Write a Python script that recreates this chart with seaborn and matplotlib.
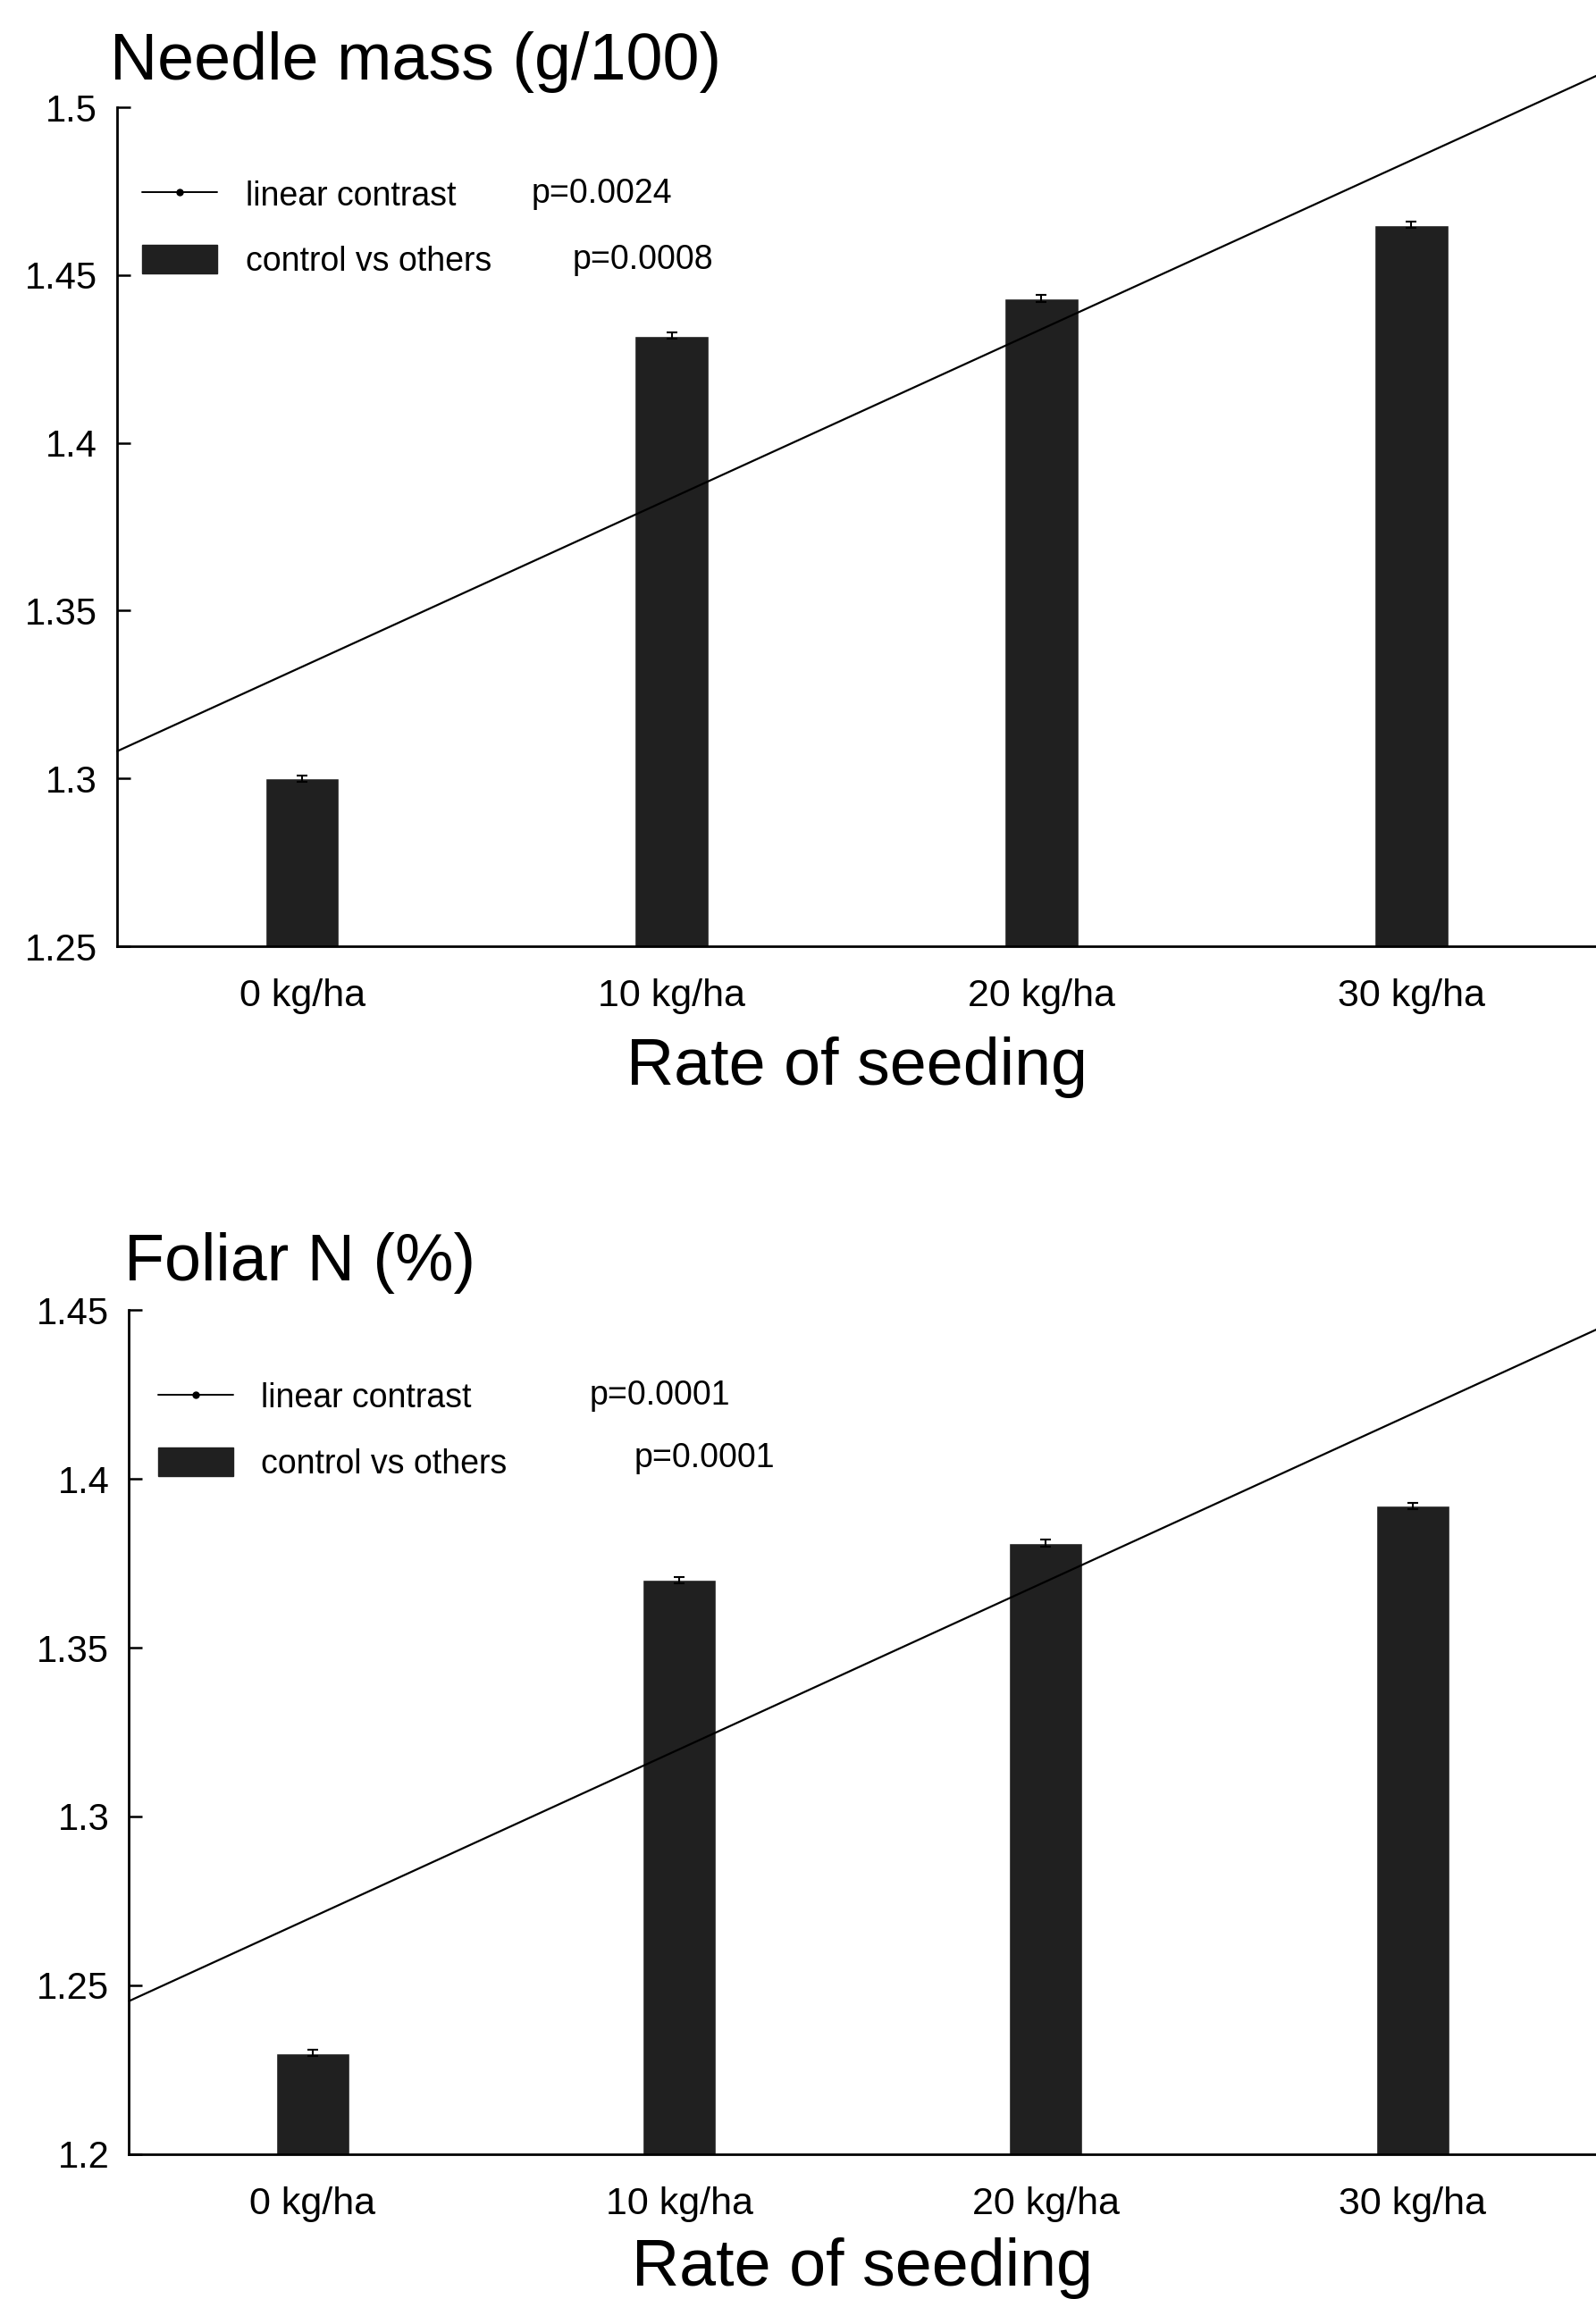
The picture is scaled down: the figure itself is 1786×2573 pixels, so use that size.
import numpy as np
import pandas as pd
import seaborn as sns
import matplotlib
matplotlib.use("Agg")
import matplotlib.pyplot as plt
from matplotlib.lines import Line2D
from matplotlib.patches import Patch

# ---- data ----
categories = ["0 kg/ha", "10 kg/ha", "20 kg/ha", "30 kg/ha"]

needle_mass = [1.300, 1.432, 1.443, 1.465]
needle_err = [0.001, 0.001, 0.001, 0.001]
needle_fit = [1.333, 1.384, 1.434, 1.484]
needle_yticks = [1.25, 1.3, 1.35, 1.4, 1.45, 1.5]
needle_yticklabels = ["1.25", "1.3", "1.35", "1.4", "1.45", "1.5"]
needle_p = ["p=0.0024", "p=0.0008"]

foliar_n = [1.230, 1.370, 1.381, 1.392]
foliar_err = [0.001, 0.001, 0.001, 0.001]
foliar_fit = [1.270, 1.320, 1.370, 1.419]
foliar_yticks = [1.2, 1.25, 1.3, 1.35, 1.4, 1.45]
foliar_yticklabels = ["1.2", "1.25", "1.3", "1.35", "1.4", "1.45"]
foliar_p = ["p=0.0001", "p=0.0001"]

titles = ["Needle mass (g/100)", "Foliar N (%)"]
xlabel = "Rate of seeding"
legend_labels = ["linear contrast", "control vs others"]

sns.set_style("white")
plt.rcParams["font.family"] = ["Liberation Sans", "DejaVu Sans"]
for k in ["text.color", "axes.labelcolor", "xtick.color", "ytick.color"]:
    plt.rcParams[k] = "black"

BAR = "#202020"
fig = plt.figure(figsize=(17.86, 25.73), dpi=100)

panels = [
    dict(rect=[0.0735, 0.5884, 0.9265, 0.3649], vals=needle_mass, err=needle_err,
         fit=needle_fit, yticks=needle_yticks, ylabels=needle_yticklabels,
         p=needle_p, title=titles[0], title_xy=(0.069, 0.973),
         leg_anchor=(0.017, 0.914), p_xy=[(0.280, 0.897), (0.3076, 0.818)],
         labelpad=18),
    dict(rect=[0.0809, 0.0630, 0.9191, 0.3672], vals=foliar_n, err=foliar_err,
         fit=foliar_fit, yticks=foliar_yticks, ylabels=foliar_yticklabels,
         p=foliar_p, title=titles[1], title_xy=(0.078, 0.4505),
         leg_anchor=(0.020, 0.915), p_xy=[(0.314, 0.899), (0.344, 0.824)],
         labelpad=12),
]

for pn in panels:
    ax = fig.add_axes(pn["rect"])
    df = pd.DataFrame({"rate": categories, "value": pn["vals"]})
    sns.barplot(data=df, x="rate", y="value", order=categories, color=BAR,
                saturation=1, width=0.2, errorbar=None, ax=ax, zorder=2)
    xs = np.arange(len(categories))
    ax.errorbar(xs, pn["vals"], yerr=pn["err"], fmt="none", ecolor="black",
                elinewidth=1.5, capsize=4, capthick=1.5, zorder=3)
    slope, intercept = np.polyfit(xs, pn["fit"], 1)
    xl = np.array([-0.5, 3.6])
    ax.plot(xl, intercept + slope * xl, color="black", lw=1.6, clip_on=False, zorder=4)

    ax.set_xlim(-0.5, 3.5)
    ax.set_ylim(pn["yticks"][0], pn["yticks"][-1])
    ax.set_yticks(pn["yticks"])
    ax.set_yticklabels(pn["ylabels"])
    ax.tick_params(axis="y", direction="in", length=11, width=1.8, pad=16,
                   labelsize=30, left=True)
    ax.tick_params(axis="x", length=0, pad=26, labelsize=31)
    ax.set_xlabel(xlabel, fontsize=53, labelpad=pn["labelpad"])
    ax.set_ylabel("")
    for s in ["top", "right"]:
        ax.spines[s].set_visible(False)
    for s in ["left", "bottom"]:
        ax.spines[s].set_linewidth(2.0)
        ax.spines[s].set_color("black")

    handles = [Line2D([0], [0], color="black", lw=1.4, marker="o", markersize=5),
               Patch(facecolor=BAR, edgecolor=BAR)]
    ax.legend(handles, legend_labels, loc="upper left", bbox_to_anchor=pn["leg_anchor"],
              frameon=False, fontsize=27, handlelength=2.24, handletextpad=0.83,
              handleheight=0.93, labelspacing=0.98, borderpad=0, borderaxespad=0)
    for (px, py), txt in zip(pn["p_xy"], pn["p"]):
        ax.text(px, py, txt, transform=ax.transAxes, fontsize=27, va="center", ha="left")

    fig.text(pn["title_xy"][0], pn["title_xy"][1], pn["title"], fontsize=53,
             ha="left", va="center")

fig.savefig("out.png", dpi=100)
